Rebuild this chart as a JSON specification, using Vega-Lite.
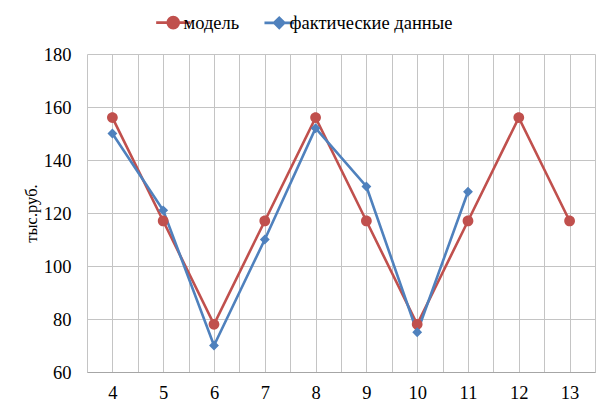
{
  "$schema": "https://vega.github.io/schema/vega-lite/v6.json",
  "width": 508,
  "height": 318,
  "autosize": {"type": "none"},
  "padding": {"left": 87, "top": 54, "right": 10, "bottom": 41},
  "background": "white",
  "config": {
    "font": "Liberation Serif",
    "view": {"stroke": null}
  },
  "data": {
    "values": [
      {"series": "модель", "x": 4, "y": 156},
      {"series": "модель", "x": 5, "y": 117},
      {"series": "модель", "x": 6, "y": 78},
      {"series": "модель", "x": 7, "y": 117},
      {"series": "модель", "x": 8, "y": 156},
      {"series": "модель", "x": 9, "y": 117},
      {"series": "модель", "x": 10, "y": 78},
      {"series": "модель", "x": 11, "y": 117},
      {"series": "модель", "x": 12, "y": 156},
      {"series": "модель", "x": 13, "y": 117},
      {"series": "фактические данные", "x": 4, "y": 150},
      {"series": "фактические данные", "x": 5, "y": 121},
      {"series": "фактические данные", "x": 6, "y": 70},
      {"series": "фактические данные", "x": 7, "y": 110},
      {"series": "фактические данные", "x": 8, "y": 152},
      {"series": "фактические данные", "x": 9, "y": 130},
      {"series": "фактические данные", "x": 10, "y": 75},
      {"series": "фактические данные", "x": 11, "y": 128}
    ]
  },
  "encoding": {
    "x": {
      "field": "x", "type": "quantitative",
      "scale": {"domain": [3.5, 13.5], "nice": false, "zero": false},
      "axis": {
        "title": null,
        "values": [3.5, 4, 4.5, 5, 5.5, 6, 6.5, 7, 7.5, 8, 8.5, 9, 9.5, 10, 10.5, 11, 11.5, 12, 12.5, 13, 13.5],
        "labelExpr": "datum.value % 1 === 0 ? '' + datum.value : ''",
        "labelFont": "Liberation Serif", "labelColor": "#000",
        "labelFontSize": 18.5, "labelPadding": 11, "ticks": false,
        "grid": true, "gridColor": "#c4c4c4", "gridWidth": 1,
        "domainColor": "#a6a6a6", "labelFlush": false, "labelOverlap": false
      }
    },
    "y": {
      "field": "y", "type": "quantitative",
      "scale": {"domain": [60, 180], "nice": false, "zero": false},
      "axis": {
        "title": "тыс.руб.", "titleFontSize": 16.5, "titleFontWeight": "normal",
        "titleFont": "Liberation Serif", "titleColor": "#000",
        "titlePadding": 4,
        "values": [60, 80, 100, 120, 140, 160, 180],
        "labelFont": "Liberation Serif", "labelColor": "#000",
        "labelFontSize": 18.5, "labelPadding": 16, "ticks": false,
        "grid": true, "gridColor": "#c4c4c4", "gridWidth": 1,
        "domain": false
      }
    },
    "color": {
      "field": "series", "type": "nominal",
      "scale": {"domain": ["модель", "фактические данные"], "range": ["#C0504D", "#4F81BD"]},
      "legend": {
        "title": null, "orient": "none", "direction": "horizontal",
        "legendX": 77, "legendY": -41,
        "labelFont": "Liberation Serif", "labelColor": "#000",
        "labelFontSize": 18.5, "labelLimit": 400, "symbolSize": 100, "labelOffset": 1,
        "columnPadding": 18, "symbolStrokeWidth": 2.8,
        "encode": {
          "symbols": {
            "update": {
              "stroke": {"scale": "color", "field": "value"},
              "strokeWidth": {"value": 2.8}
            }
          }
        }
      }
    },
    "shape": {
      "field": "series", "type": "nominal",
      "scale": {"domain": ["модель", "фактические данные"], "range": ["M-2.7,0H2.7M0.85,0A0.85,0.85,0,1,1,-0.85,0A0.85,0.85,0,1,1,0.85,0Z", "M-2.7,0H2.7M0,-0.9L0.9,0L0,0.9L-0.9,0Z"]},
      "legend": null
    }
  },
  "layer": [
    {"mark": {"type": "line", "strokeWidth": 2.6}, "encoding": {"detail": {"field": "series"}, "shape": null}},
    {
      "mark": {"type": "point", "filled": true, "opacity": 1, "strokeWidth": 0},
      "encoding": {
        "size": {"field": "series", "type": "nominal", "scale": {"domain": ["модель", "фактические данные"], "range": [160, 120]}, "legend": null}
      }
    }
  ]
}
